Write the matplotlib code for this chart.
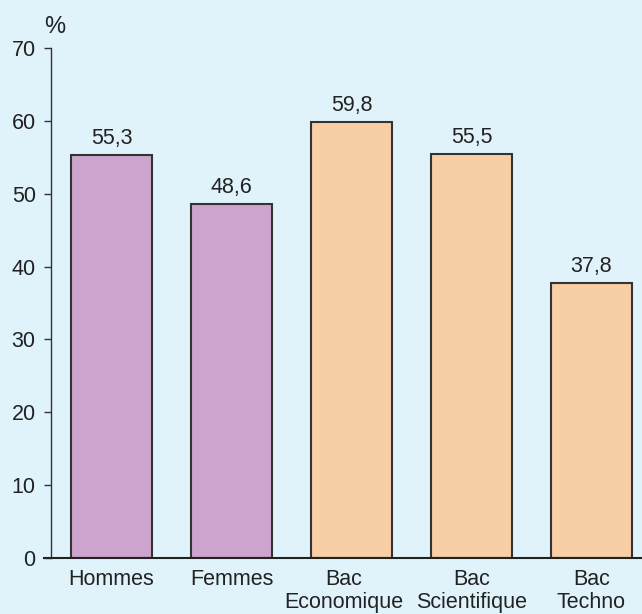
import matplotlib
matplotlib.use("Agg")
import matplotlib.pyplot as plt
import matplotlib.transforms as mtransforms
from matplotlib.lines import Line2D

# données
categories = ["Hommes", "Femmes", "Bac\nEconomique", "Bac\nScientifique", "Bac\nTechno"]
values = [55.3, 48.6, 59.8, 55.5, 37.8]
value_labels = ["55,3", "48,6", "59,8", "55,5", "37,8"]
bar_colors = ["#CCA4CD", "#CCA4CD", "#F7CEA6", "#F7CEA6", "#F7CEA6"]
yticks = [0, 10, 20, 30, 40, 50, 60, 70]

bg = "#E0F3FB"
fs = 15.5
plt.rcParams["font.family"] = ["Liberation Sans", "DejaVu Sans"]

fig = plt.figure(figsize=(6.42, 6.14), dpi=100, facecolor=bg)
ax = fig.add_axes([51 / 642, 56 / 614, 591 / 642, 510 / 614], facecolor=bg)

x = list(range(len(categories)))
ax.bar(x, values, width=0.675, color=bar_colors, edgecolor="#333333", linewidth=1.5, zorder=2)

for xi, v, lab in zip(x, values, value_labels):
    ax.text(xi, v + 0.8, lab, ha="center", va="bottom", fontsize=fs, color="#222222")

ax.set_xlim(-0.504, 4.421)
ax.set_ylim(0, 70)
ax.set_yticks(yticks)
ax.set_xticks(x)
ax.set_xticklabels(categories, fontsize=fs, color="#222222", linespacing=1.1)
ax.tick_params(axis="x", length=0, pad=8)
ax.tick_params(axis="y", length=5, width=1, color="#333333", labelsize=fs,
               labelcolor="#222222", pad=6)

# "Bac Economique" un peu décalé vers la gauche comme sur l'original
lbl = ax.get_xticklabels()[2]
lbl.set_transform(lbl.get_transform() + mtransforms.ScaledTranslation(-8 / 100, 0, fig.dpi_scale_trans))

for s in ["top", "right", "bottom"]:
    ax.spines[s].set_visible(False)
ax.spines["left"].set_color("#333333")
ax.spines["left"].set_linewidth(1)

# ligne de base qui dépasse à gauche
ax.add_line(Line2D([-0.012, 1.0], [0, 0], transform=ax.transAxes, color="#222222",
                   linewidth=1.5, clip_on=False, zorder=3))

ax.text(-0.012, 1.02, "%", transform=ax.transAxes, fontsize=17, color="#222222",
        ha="left", va="bottom")

fig.savefig("out.png", dpi=100, facecolor=bg)
